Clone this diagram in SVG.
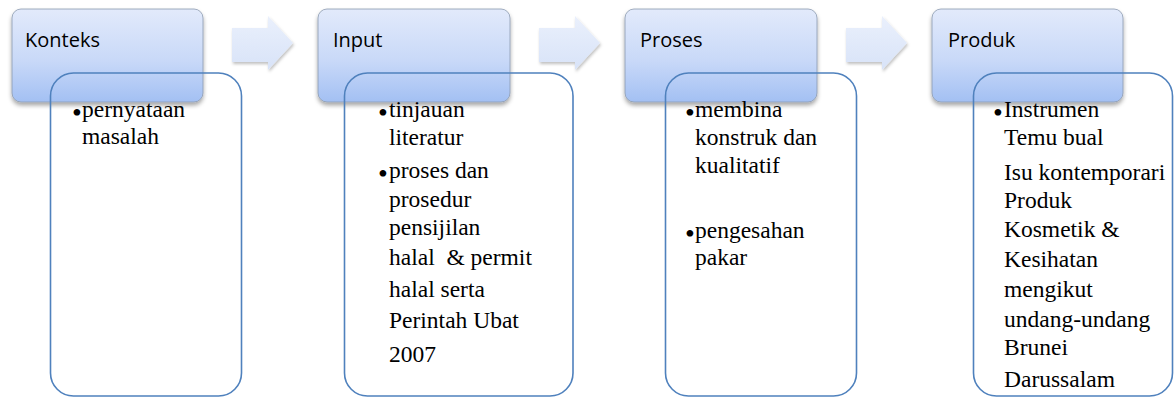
<svg xmlns="http://www.w3.org/2000/svg" width="1176" height="398" viewBox="0 0 1176 398">
<style>
.hdr{fill:url(#hg);stroke:#8c9bb0;stroke-width:0.8;filter:url(#sh)}
.arr{fill:url(#ag);filter:url(#sha)}
.det{fill:none;stroke:#4f81bd;stroke-width:1.6}
.ht{font-family:"Open Sans",sans-serif;font-size:20px;fill:#000}
.bt{font-family:"Liberation Serif",serif;font-size:23.5px;fill:#000;white-space:pre}
.bu{font-family:"Liberation Serif",serif;font-size:28px;fill:#000}
</style>
<defs>
<linearGradient id="hg" x1="0" y1="0" x2="0" y2="1">
<stop offset="0" stop-color="#e2eafb"/>
<stop offset="0.55" stop-color="#c9d9f8"/>
<stop offset="1" stop-color="#a3c0f3"/>
</linearGradient>
<linearGradient id="ag" x1="0" y1="0" x2="0" y2="1">
<stop offset="0" stop-color="#eaf0fc"/>
<stop offset="1" stop-color="#d8e3f8"/>
</linearGradient>
<filter id="sh" x="-10%" y="-10%" width="120%" height="130%">
<feDropShadow dx="0" dy="3" stdDeviation="2" flood-color="#000" flood-opacity="0.35"/>
</filter>
<filter id="sha" x="-10%" y="-10%" width="130%" height="140%">
<feDropShadow dx="1" dy="2" stdDeviation="1.5" flood-color="#000" flood-opacity="0.25"/>
</filter>
</defs>
<rect width="1176" height="398" fill="#fff"/>
<g id="connectors">
<path class="arr" d="M232,28 H268 V16 L293,43 L268,70 V62 H232 Z"/>
<path class="arr" d="M539,28 H575 V16 L600,43 L575,70 V62 H539 Z"/>
<path class="arr" d="M846,28 H882 V16 L907,43 L882,70 V62 H846 Z"/>
</g>
<g id="konteks">
<rect class="hdr" x="12" y="9" width="191" height="93" rx="9"/>
<text class="ht" x="25" y="47">Konteks</text>
<rect class="det" x="50.5" y="73" width="191" height="323" rx="23"/>
<text class="bu" x="72" y="122">•</text>
<text class="bt" x="82" y="117">pernyataan</text>
<text class="bt" x="82" y="144">masalah</text>
</g>
<g id="input">
<rect class="hdr" x="318" y="9" width="192" height="93" rx="9"/>
<text class="ht" x="333" y="47">Input</text>
<rect class="det" x="344.5" y="73" width="228.5" height="323" rx="23"/>
<text class="bu" x="378" y="122">•</text>
<text class="bt" x="389" y="117">tinjauan</text>
<text class="bt" x="389" y="145">literatur</text>
<text class="bu" x="378" y="183">•</text>
<text class="bt" x="389" y="178">proses dan</text>
<text class="bt" x="389" y="207">prosedur</text>
<text class="bt" x="389" y="235">pensijilan</text>
<text class="bt" x="389" y="265">halal  &amp; permit</text>
<text class="bt" x="389" y="297">halal serta</text>
<text class="bt" x="389" y="328">Perintah Ubat</text>
<text class="bt" x="389" y="362">2007</text>
</g>
<g id="proses">
<rect class="hdr" x="625" y="9" width="192" height="93" rx="9"/>
<text class="ht" x="640" y="47">Proses</text>
<rect class="det" x="665.5" y="73" width="191" height="323" rx="23"/>
<text class="bu" x="685" y="122">•</text>
<text class="bt" x="695" y="117">membina</text>
<text class="bt" x="695" y="145">konstruk dan</text>
<text class="bt" x="695" y="173">kualitatif</text>
<text class="bu" x="685" y="243">•</text>
<text class="bt" x="695" y="238">pengesahan</text>
<text class="bt" x="695" y="265">pakar</text>
</g>
<g id="produk">
<rect class="hdr" x="932" y="9" width="191" height="93" rx="9"/>
<text class="ht" x="948" y="47">Produk</text>
<rect class="det" x="973.5" y="73" width="199" height="323" rx="23"/>
<text class="bu" x="993" y="122">•</text>
<text class="bt" x="1004" y="117">Instrumen</text>
<text class="bt" x="1004" y="145">Temu bual</text>
<text class="bt" x="1004" y="180">Isu kontemporari</text>
<text class="bt" x="1004" y="208">Produk</text>
<text class="bt" x="1004" y="237">Kosmetik &amp;</text>
<text class="bt" x="1004" y="267">Kesihatan</text>
<text class="bt" x="1004" y="297">mengikut</text>
<text class="bt" x="1004" y="327">undang-undang</text>
<text class="bt" x="1004" y="355">Brunei</text>
<text class="bt" x="1004" y="387">Darussalam</text>
</g>
</svg>
